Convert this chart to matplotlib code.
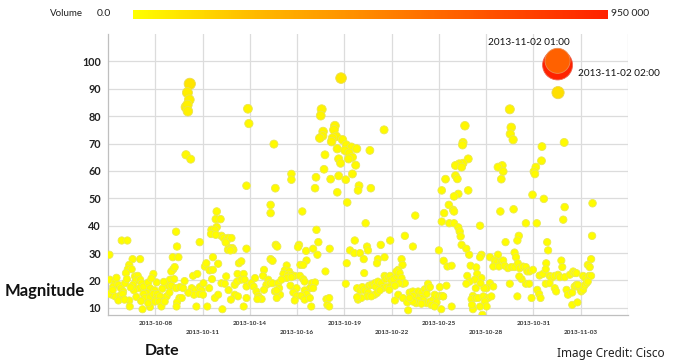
import matplotlib
matplotlib.use('Agg')
import matplotlib.pyplot as plt
from matplotlib.colors import LinearSegmentedColormap, Normalize
from matplotlib.cm import ScalarMappable
import numpy as np

# ---------------- data ----------------
# x position is measured in date-tick intervals (tick i sits at x = i)
upper_tick_pos = [1, 3, 5, 7, 9]
upper_tick_labels = ['2013-10-08', '2013-10-14', '2013-10-19', '2013-10-25', '2013-10-31']
lower_tick_pos = [2, 4, 6, 8, 10]
lower_tick_labels = ['2013-10-11', '2013-10-16', '2013-10-22', '2013-10-28', '2013-11-03']
mag_ticks = [10, 20, 30, 40, 50, 60, 70, 80, 90, 100]
volume_max_k = 950   # thousands

# (x position, magnitude, volume in thousands)
cloud_west = [
    (1.73, 91.8, 90), (1.68, 88.6, 60), (1.72, 86.0, 55), (1.68, 84.1, 50), (1.65, 83.3, 55),
    (1.69, 81.8, 50), (1.65, 65.9, 25), (1.75, 64.3, 20), (2.96, 82.7, 35), (2.98, 77.3, 25),
    (3.51, 69.8, 20),
    (2.93, 54.6, 14), (3.54, 53.7, 16), (2.30, 45.2, 12), (2.28, 42.4, 12), (2.38, 42.4, 12),
    (2.30, 39.5, 12), (2.19, 38.5, 12), (2.26, 38.5, 10), (2.18, 37.0, 10), (2.28, 36.7, 10),
    (2.40, 36.3, 12), (2.45, 35.5, 12), (2.51, 34.5, 12), (2.54, 35.5, 12), (2.61, 35.5, 10),
    (2.49, 33.9, 10), (2.56, 31.8, 12), (2.63, 31.8, 12), (2.54, 31.2, 12), (2.65, 31.2, 12),
    (2.59, 31.0, 12), (1.44, 37.8, 10), (1.46, 32.4, 10), (1.94, 34.0, 10), (2.93, 31.6, 10),
    (3.44, 47.6, 12), (3.44, 44.6, 12), (3.55, 33.0, 12), (3.58, 32.4, 10), (3.44, 27.8, 10),
    (3.48, 27.2, 10), (1.37, 28.5, 8), (1.49, 28.5, 8), (0.03, 29.4, 8), (0.29, 34.6, 8),
    (0.41, 34.6, 8), (0.52, 27.8, 8), (0.68, 27.8, 8), (0.45, 25.7, 8), (0.42, 24.1, 8),
    (0.50, 24.1, 8), (0.38, 22.7, 8), (1.38, 24.1, 8), (1.34, 23.3, 8), (1.41, 24.9, 8),
    (1.80, 21.7, 6), (1.89, 22.4, 6), (0.96, 22.4, 6), (2.05, 25.1, 8), (2.08, 26.3, 8),
    (2.15, 23.7, 8), (2.22, 28.5, 8), (2.33, 26.1, 8), (2.22, 23.9, 6), (2.74, 22.4, 6),
    (2.77, 26.3, 8), (2.82, 27.0, 8), (2.87, 22.4, 6), (3.11, 20.9, 6), (3.30, 23.9, 6),
    (3.28, 21.7, 6), (3.39, 20.3, 6), (0.04, 20.3, 6), (0.15, 19.3, 6), (0.11, 17.8, 6),
    (0.22, 18.4, 6), (0.27, 17.2, 6), (0.36, 19.0, 6), (0.32, 16.0, 6), (0.08, 14.8, 6),
    (0.15, 14.2, 6), (0.25, 14.4, 6), (0.31, 15.1, 6), (0.22, 12.7, 6), (0.45, 12.7, 6),
    (0.46, 10.5, 6), (0.02, 15.1, 6), (0.57, 21.5, 6), (0.63, 21.7, 6), (0.59, 20.0, 6),
    (0.68, 20.3, 6), (0.53, 18.4, 6), (0.71, 19.0, 6), (0.66, 17.2, 6), (0.75, 17.8, 6),
    (0.55, 16.4, 6), (0.85, 19.3, 6), (1.03, 19.3, 6), (0.89, 17.2, 6), (0.99, 16.4, 6),
    (0.82, 15.4, 6), (0.75, 15.1, 6), (0.78, 13.6, 6), (0.89, 13.9, 6), (0.96, 15.1, 6),
    (1.04, 15.1, 6), (1.03, 13.6, 6), (1.10, 14.2, 6), (0.99, 12.3, 6), (1.08, 12.3, 6),
    (1.13, 10.5, 6), (0.89, 10.3, 6), (0.73, 9.5, 6), (0.85, 11.7, 6), (1.24, 14.2, 6),
    (1.20, 12.3, 6), (1.31, 20.3, 6), (1.27, 18.1, 6), (1.34, 18.1, 6), (1.44, 17.2, 6),
    (1.52, 17.6, 6), (1.59, 17.2, 6), (1.51, 13.6, 6), (1.56, 13.6, 6), (1.46, 12.0, 6),
    (1.45, 10.5, 6), (1.30, 15.6, 6), (1.77, 17.2, 6), (1.84, 16.4, 6), (1.82, 14.8, 6),
    (1.87, 10.5, 6), (1.94, 17.6, 6), (1.98, 16.4, 6), (1.93, 15.1, 6), (2.01, 14.8, 6),
    (2.10, 10.5, 6), (2.14, 17.2, 6), (2.26, 13.6, 6), (2.33, 14.8, 6), (2.40, 19.0, 6),
    (2.42, 9.5, 6), (2.47, 18.8, 6), (2.68, 18.4, 6), (2.73, 19.6, 6), (2.68, 14.8, 6),
    (2.75, 14.2, 6), (2.82, 20.3, 6), (2.89, 20.3, 6), (2.87, 10.5, 6), (2.93, 13.6, 6),
    (2.93, 17.8, 6), (3.03, 19.0, 6), (3.08, 17.8, 6), (3.14, 16.0, 6), (3.18, 14.4, 6),
    (3.21, 13.6, 6), (3.25, 13.2, 6), (3.16, 13.2, 6), (3.35, 18.4, 6), (3.42, 19.0, 6),
    (3.48, 19.0, 6), (3.60, 19.0, 6), (3.53, 16.0, 6), (3.30, 16.6, 6),
    (0.10, 16.5, 6), (0.18, 21.0, 6), (0.40, 20.5, 6), (0.48, 17.5, 6), (0.60, 14.0, 6),
    (0.70, 12.5, 6), (0.35, 13.0, 6), (1.15, 17.0, 6), (1.18, 19.5, 6), (0.92, 20.8, 6),
    (1.40, 20.5, 6), (1.62, 19.8, 6), (1.70, 15.5, 6), (2.02, 19.0, 6), (2.20, 20.5, 6),
    (2.55, 16.5, 6), (2.60, 13.0, 6), (2.50, 21.5, 6),
]

cloud_central = [
    (4.93, 93.9, 75), (4.52, 82.5, 40), (4.50, 80.2, 35), (5.84, 75.0, 20), (4.80, 76.5, 35),
    (4.78, 75.0, 35), (4.55, 74.4, 30), (4.54, 72.8, 30), (4.48, 72.0, 30), (4.83, 72.6, 30),
    (4.75, 72.0, 30), (4.73, 70.7, 30), (4.96, 71.4, 28), (5.04, 69.5, 25), (5.15, 68.7, 25),
    (5.26, 68.1, 25), (4.85, 68.1, 25), (5.01, 67.5, 25), (5.10, 66.5, 25), (5.17, 65.0, 22),
    (5.09, 64.4, 22), (4.88, 64.4, 22), (4.92, 62.8, 20), (5.54, 67.5, 18), (4.59, 65.9, 18),
    (5.24, 62.1, 20), (4.57, 60.6, 16), (5.17, 58.9, 20), (4.88, 58.2, 18), (3.88, 58.9, 12),
    (4.40, 57.7, 16), (4.71, 57.0, 16), (5.03, 56.8, 16),
    (3.88, 56.8, 12), (4.38, 53.7, 14), (5.31, 54.6, 18), (5.29, 52.9, 16), (5.56, 53.7, 14),
    (4.85, 52.2, 14), (5.06, 48.5, 14), (4.11, 45.2, 10), (6.50, 43.7, 10), (5.45, 40.9, 10),
    (4.41, 38.5, 10), (6.28, 36.3, 10), (5.97, 34.6, 10), (5.22, 34.6, 10), (5.77, 33.0, 10),
    (4.45, 34.0, 10), (4.04, 33.0, 10), (4.02, 32.2, 10), (4.34, 31.6, 8), (4.19, 30.8, 8),
    (4.69, 31.6, 8), (5.48, 32.4, 8), (5.50, 31.0, 8), (5.12, 31.0, 8), (5.21, 30.0, 8),
    (5.33, 30.0, 8), (6.45, 32.4, 8), (5.85, 28.5, 8), (5.71, 27.8, 8), (5.69, 26.3, 8),
    (5.41, 27.8, 8), (4.43, 29.4, 8), (4.20, 27.3, 8), (4.07, 25.7, 8), (4.13, 25.7, 8),
    (6.21, 27.8, 8), (6.23, 25.7, 8), (5.05, 26.3, 8), (5.42, 22.7, 6), (4.60, 23.3, 6),
    (5.03, 18.8, 6), (7.00, 31.0, 8),
    (3.78, 25.5, 6), (3.74, 23.7, 6), (3.83, 23.3, 6), (3.71, 22.4, 6), (3.81, 22.1, 6),
    (3.88, 22.1, 6), (3.95, 21.7, 6), (4.06, 21.7, 6), (3.78, 20.9, 6), (3.88, 21.2, 6),
    (3.67, 20.3, 6), (4.13, 20.5, 6), (4.16, 19.6, 6), (4.31, 19.0, 6), (4.38, 19.3, 6),
    (4.27, 17.2, 6), (4.34, 17.2, 6), (3.86, 18.1, 6), (3.99, 17.2, 6), (3.92, 15.6, 6),
    (3.62, 17.2, 6), (3.64, 14.8, 6), (4.16, 16.4, 6), (4.20, 15.1, 6), (3.99, 14.4, 6),
    (4.09, 14.4, 6), (3.95, 12.7, 6), (4.16, 13.0, 6), (4.27, 13.6, 6), (4.30, 10.5, 6),
    (4.62, 13.2, 6), (4.68, 13.6, 6), (4.64, 11.1, 6), (4.68, 10.5, 6), (3.57, 16.4, 6),
    (3.57, 13.6, 6),
    (5.27, 17.2, 6), (5.33, 16.4, 6), (5.38, 17.6, 6), (5.43, 16.4, 6), (5.52, 18.1, 6),
    (5.57, 18.4, 6), (5.64, 19.0, 6), (5.66, 17.8, 6), (5.71, 19.6, 6), (5.78, 19.0, 6),
    (5.85, 21.7, 6), (5.87, 20.5, 6), (5.92, 21.2, 6), (5.97, 21.7, 6), (5.99, 20.0, 6),
    (6.04, 20.5, 6), (6.12, 21.5, 6), (6.14, 23.9, 6), (6.10, 23.3, 6), (6.17, 22.7, 6),
    (6.21, 20.9, 6), (6.24, 18.8, 6), (6.28, 19.0, 6), (6.16, 19.0, 6), (5.81, 17.2, 6),
    (5.89, 17.6, 6), (5.97, 17.8, 6), (6.07, 18.1, 6), (5.95, 16.6, 6), (5.50, 15.6, 6),
    (5.64, 14.8, 6), (5.69, 15.4, 6), (5.75, 16.4, 6), (5.48, 14.2, 6), (5.57, 14.2, 6),
    (5.29, 13.0, 6), (5.36, 13.6, 6), (5.27, 13.9, 6), (6.07, 12.7, 6), (6.14, 14.8, 6),
    (6.24, 13.6, 6), (6.33, 12.0, 6), (6.35, 9.1, 6),
    (6.38, 15.6, 6), (6.45, 16.0, 6), (6.52, 15.1, 6), (6.56, 16.0, 6), (6.63, 15.6, 6),
    (6.70, 16.8, 6), (6.77, 17.2, 6), (6.74, 15.1, 6), (6.63, 13.6, 6), (6.56, 13.0, 6),
    (6.45, 14.4, 6), (6.68, 12.7, 6), (6.74, 11.7, 6), (6.81, 12.3, 6), (6.88, 13.0, 6),
    (6.91, 14.8, 6), (6.98, 14.2, 6), (7.05, 14.4, 6), (7.09, 14.2, 6), (6.95, 12.0, 6),
    (6.84, 11.1, 6), (6.91, 10.5, 6), (7.05, 9.5, 6), (6.52, 11.7, 6), (6.45, 12.3, 6),
    (6.38, 13.6, 6), (6.63, 11.5, 6), (6.77, 18.8, 6), (6.81, 17.6, 6), (7.02, 17.6, 6),
]

cloud_east = [
    (8.50, 82.5, 40), (7.55, 76.5, 30), (8.53, 75.9, 30), (8.51, 73.5, 25), (8.57, 71.4, 25),
    (7.51, 70.4, 22), (7.50, 69.5, 22), (9.65, 70.4, 20), (9.18, 68.9, 18), (9.17, 63.7, 18),
    (7.62, 64.4, 20), (7.51, 62.8, 20), (7.43, 62.6, 20), (7.35, 62.0, 20), (7.48, 61.4, 20),
    (8.34, 62.0, 18), (8.25, 61.4, 18), (8.36, 59.8, 16), (9.05, 61.4, 16), (9.01, 59.8, 16),
    (9.03, 58.9, 16), (7.14, 57.0, 16), (7.35, 58.3, 16), (7.39, 57.1, 16), (8.32, 57.0, 16),
    (7.62, 52.9, 14), (7.41, 51.6, 14), (7.32, 50.7, 14), (7.06, 52.9, 14), (8.98, 51.3, 14),
    (9.22, 49.8, 12), (10.25, 48.2, 12), (7.21, 47.6, 12), (7.30, 45.8, 12), (7.32, 45.2, 12),
    (7.11, 44.6, 12), (8.30, 45.2, 12), (8.58, 46.0, 12), (9.66, 46.8, 12), (9.63, 42.2, 10),
    (7.06, 41.5, 10), (7.22, 40.9, 10), (7.32, 40.9, 10), (7.41, 39.4, 10), (7.44, 37.9, 10),
    (7.46, 36.1, 10), (7.87, 40.0, 10), (8.84, 40.9, 10), (9.07, 40.9, 10), (10.24, 36.3, 10),
    (7.48, 33.0, 8), (7.58, 31.6, 8), (8.69, 36.3, 10), (8.66, 34.6, 10), (8.41, 34.0, 8),
    (9.29, 34.0, 8), (9.31, 31.0, 8), (7.64, 29.4, 8), (7.90, 29.4, 8), (7.87, 28.5, 8),
    (8.60, 30.2, 8), (8.63, 28.5, 8), (8.25, 29.4, 8), (8.08, 28.5, 8), (10.22, 27.8, 8),
    (10.15, 25.7, 8), (10.19, 24.9, 8), (7.10, 27.2, 8),
    (8.18, 27.3, 6), (8.23, 26.6, 6), (8.32, 26.9, 6), (8.36, 27.3, 6), (8.15, 25.1, 6),
    (8.27, 25.1, 6), (8.39, 25.4, 6), (8.46, 24.5, 6), (8.53, 24.9, 6), (8.60, 24.9, 6),
    (8.67, 26.3, 6), (8.71, 24.5, 6), (8.78, 25.1, 6), (8.84, 24.9, 6), (8.87, 23.3, 6),
    (8.92, 23.3, 6), (8.99, 23.9, 6), (9.13, 21.8, 6), (9.20, 22.4, 6), (9.27, 26.3, 6),
    (9.26, 24.1, 6), (9.34, 21.7, 6), (9.38, 20.9, 6), (9.45, 21.7, 6), (9.52, 22.1, 6),
    (9.56, 21.2, 6), (9.59, 27.3, 6), (9.61, 24.9, 6), (9.66, 21.2, 6), (9.77, 22.1, 6),
    (9.84, 23.3, 6), (9.87, 22.7, 6), (9.91, 22.7, 6), (10.05, 21.7, 6), (10.10, 20.9, 6),
    (10.18, 21.7, 6), (10.22, 21.7, 6),
    (7.18, 25.1, 6), (7.27, 25.4, 6), (7.67, 25.4, 6), (7.79, 24.8, 6), (7.60, 21.7, 6),
    (7.81, 22.4, 6), (7.90, 20.9, 6), (8.08, 19.0, 6), (8.15, 17.8, 6), (8.01, 17.2, 6),
    (7.96, 17.2, 6), (7.76, 20.3, 6), (7.65, 19.6, 6), (7.58, 18.8, 6), (7.78, 17.2, 6),
    (7.88, 19.0, 6), (8.50, 18.8, 6), (8.84, 18.8, 6), (8.91, 18.8, 6), (8.75, 20.5, 6),
    (8.70, 21.5, 6), (9.08, 16.6, 6), (9.12, 15.1, 6), (9.15, 13.6, 6), (8.96, 13.6, 6),
    (8.66, 14.2, 6), (9.26, 18.8, 6), (9.34, 19.0, 6), (9.45, 17.2, 6), (9.48, 16.0, 6),
    (9.70, 16.6, 6), (9.73, 14.8, 6), (9.82, 15.6, 6), (9.87, 17.8, 6), (9.91, 18.4, 6),
    (9.98, 17.2, 6), (10.01, 16.0, 6), (10.05, 16.6, 6), (10.08, 18.1, 6), (10.12, 19.0, 6),
    (10.15, 19.6, 6), (9.94, 18.4, 6), (7.16, 18.1, 6), (7.09, 14.2, 6), (7.27, 10.5, 6),
    (7.72, 14.4, 6), (7.69, 13.2, 6), (7.78, 13.6, 6), (7.83, 13.6, 6), (7.94, 14.2, 6),
    (8.04, 13.6, 6), (8.11, 14.2, 6), (7.97, 12.3, 6), (8.01, 10.5, 6), (7.87, 10.5, 6),
    (7.72, 9.5, 6), (7.70, 11.1, 6), (7.92, 7.5, 6), (9.82, 11.1, 6), (9.93, 12.0, 6),
]

peak_hours = [(9.51, 98.7, 950), (9.51, 100.2, 646), (9.52, 88.6, 115)]
peak_labels = ['2013-11-02 02:00', '2013-11-02 01:00', '']

# ---------------- styling ----------------
FONT = ['Lato', 'DejaVu Sans']
plt.rcParams['font.family'] = FONT

cmap = LinearSegmentedColormap.from_list(
    'vol', [(0.0, '#FFFF00'), (0.25, '#FFBB00'), (0.5, '#FF8800'),
            (0.75, '#FF5200'), (1.0, '#FF2200')])
norm = Normalize(0, volume_max_k)

W, H = 675, 364
fig = plt.figure(figsize=(W / 100, H / 100), dpi=100)
ax = fig.add_axes([108 / W, 1 - 315 / H, 520 / W, 281 / H])

pts = cloud_west + cloud_central + cloud_east + peak_hours
pts = sorted(pts, key=lambda p: -p[2])
xs = np.array([p[0] for p in pts])
ys = np.array([p[1] for p in pts])
vs = np.array([p[2] for p in pts])
sizes = 24 + 0.465 * vs
face = cmap(norm(vs))
edge = [tuple(0.6 * np.array(f[:3]) + 0.4 * np.array([0.8, 0.8, 0.8])) for f in face]

ax.scatter(xs, ys, s=sizes, c=face, edgecolors=edge, linewidths=0.6, zorder=3)

for (x, y, v), lab in zip(peak_hours, peak_labels):
    if not lab:
        continue
    if lab.endswith('01:00'):
        ax.annotate(lab, (x, y), xytext=(-21, 13), textcoords='offset points',
                    ha='center', va='center', fontsize=7.2, color='#111111')
    else:
        ax.annotate(lab, (x, y), xytext=(15, -6), textcoords='offset points',
                    ha='left', va='center', fontsize=7.2, color='#111111')

ax.set_xlim(0, 11)
ax.set_ylim(7.4, 110)
ax.set_yticks(mag_ticks)
ax.set_yticklabels([str(t) for t in mag_ticks], fontsize=7.8, fontweight='bold', color='#222222')
ax.set_xticks(upper_tick_pos)
ax.set_xticklabels(upper_tick_labels, fontsize=4.6, fontweight='bold', color='#333333')
ax.set_xticks(lower_tick_pos + [11], minor=True)
ax.set_xticklabels(lower_tick_labels + [''], minor=True, fontsize=4.6, fontweight='bold', color='#333333')
ax.tick_params(axis='x', which='major', length=0, pad=4.5)
ax.tick_params(axis='x', which='minor', length=0, pad=10.5)
ax.tick_params(axis='y', length=0, pad=5)

ax.grid(True, which='both', axis='x', color='#DCDCDC', linewidth=0.9, zorder=0)
ax.grid(True, which='major', axis='y', color='#DCDCDC', linewidth=0.9, zorder=0)
ax.set_axisbelow(True)
for s in ['top', 'right']:
    ax.spines[s].set_visible(False)
for s in ['left', 'bottom']:
    ax.spines[s].set_color('#BFBFBF')
    ax.spines[s].set_linewidth(0.9)

# colour bar for volume
cax = fig.add_axes([133 / W, 1 - 19 / H, 475 / W, 9 / H])
cb = fig.colorbar(ScalarMappable(norm=norm, cmap=cmap), cax=cax, orientation='horizontal')
cb.outline.set_visible(False)
cax.set_xticks([])
fig.text(66 / W, 1 - 14 / H, 'Volume', ha='center', va='center', fontsize=7, color='#222222')
fig.text(104 / W, 1 - 14 / H, '0.0', ha='center', va='center', fontsize=7.5, color='#222222')
fig.text(611 / W, 1 - 14 / H, '950 000', ha='left', va='center', fontsize=7.5, color='#222222')

fig.text(5 / W, 1 - 291 / H, 'Magnitude', ha='left', va='center', fontsize=12,
         fontweight='bold', color='#111111')
fig.text(162 / W, 1 - 351 / H, 'Date', ha='center', va='center', fontsize=11.5,
         fontweight='bold', color='#111111')
fig.text(611 / W, 1 - 353 / H, 'Image Credit: Cisco', ha='center', va='center', fontsize=8.5,
         color='#222222', family=['Noto Sans', 'DejaVu Sans'])

fig.savefig('out.png', dpi=100)
